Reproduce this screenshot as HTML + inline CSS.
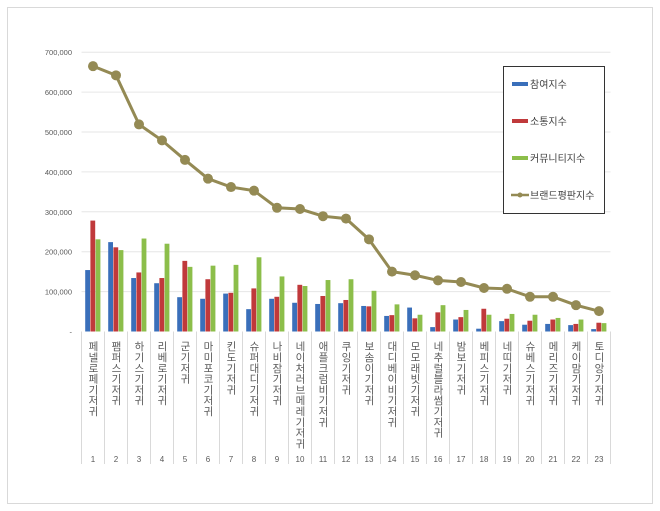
<!DOCTYPE html>
<html><head><meta charset="utf-8">
<style>
body{margin:0;background:#fff;}
svg{display:block;font-family:"Liberation Sans","Noto Sans CJK KR",sans-serif;}
</style></head>
<body>
<svg id="chart" width="660" height="511">
<rect x="7.5" y="7.5" width="645" height="496" fill="#fff" stroke="#d9d9d9"/>
<g id="grid"></g><g id="bars"></g><g id="line"></g><g id="xlabels"></g><g id="ylabels"></g>
<g>
<rect x="503.5" y="66.5" width="101" height="147" fill="#fff" stroke="#333"/>
<g><rect x="512" y="82" width="16" height="4" fill="#3a6fba"/><text x="530" y="88" font-size="10" fill="#404040">참여지수</text></g>
<g><rect x="512" y="119" width="16" height="4" fill="#c0393b"/><text x="530" y="125" font-size="10" fill="#404040">소통지수</text></g>
<g><rect x="512" y="156" width="16" height="4" fill="#8cbe4a"/><text x="530" y="162" font-size="10" fill="#404040">커뮤니티지수</text></g>
<g><line x1="511" y1="195" x2="529" y2="195" stroke="#948a54" stroke-width="2.5"/><circle cx="520" cy="195" r="2.5" fill="#948a54"/><text x="530" y="199" font-size="10" fill="#404040">브랜드평판지수</text></g>
</g>
</svg>
<script>
const categories=["페넬로페 기저귀","팸퍼스 기저귀","하기스 기저귀","리베로 기저귀","군 기저귀","마미포코 기저귀","킨도 기저귀","슈퍼대디 기저귀","나비잠 기저귀","네이처러브메레 기저귀","애플크럼비 기저귀","쿠잉 기저귀","보솜이 기저귀","대디베이비 기저귀","모모래빗 기저귀","네추럴블라썸 기저귀","밤보 기저귀","베피스 기저귀","네띠 기저귀","슈베스 기저귀","메리즈 기저귀","케이맘 기저귀","토디앙 기저귀"];
const participation=[154000,224000,134000,121000,86000,82000,95000,56000,82000,72000,69000,71000,64000,39000,60000,11000,30000,7000,26000,17000,19000,16000,6000];
const communication=[278000,211000,148000,134000,177000,131000,97000,108000,87000,117000,89000,79000,63000,41000,33000,48000,36000,57000,32000,27000,30000,19000,22000];
const community=[231000,204000,233000,220000,162000,165000,167000,186000,138000,114000,129000,131000,102000,68000,42000,66000,54000,42000,44000,42000,34000,30000,21000];
const brandIndex=[665000,642000,519000,479000,430000,383000,362000,353000,310000,307000,289000,283000,231000,150000,141000,128000,124000,109000,107000,87000,87000,66000,51000];
const yTicks=[0,100000,200000,300000,400000,500000,600000,700000];
const yTickLabels=["-","100,000","200,000","300,000","400,000","500,000","600,000","700,000"];

const NS="http://www.w3.org/2000/svg";
const x0=81.5,step=23.0,yZero=331.5,pxPer=39.9/100000;
const y=v=>yZero-v*pxPer;
const xc=i=>x0+step*(i+0.5);
function mk(tag,attrs,parent){const e=document.createElementNS(NS,tag);for(const k in attrs)e.setAttribute(k,attrs[k]);parent.appendChild(e);return e;}
const grid=document.getElementById('grid'),bars=document.getElementById('bars'),line=document.getElementById('line'),xl=document.getElementById('xlabels'),yl=document.getElementById('ylabels');
yTicks.forEach((t,i)=>{
 if(t>0){const g=mk('line',{x1:x0,x2:x0+step*categories.length,y1:y(t),y2:y(t),stroke:'#e6e6e6'},grid);
 
 }
 const tx=mk('text',{x:72,y:y(t)+3,'font-size':'7.5','text-anchor':'end',fill:'#595959'},yl);
 tx.textContent=yTickLabels[i];
 
 
});
for(let i=0;i<=categories.length;i++){
 const l=mk('line',{x1:x0+step*i,x2:x0+step*i,y1:yZero,y2:464,stroke:'#d9d9d9'},grid);
 
 
}
const series=[[participation,'#3a6fba'],[communication,'#c0393b'],[community,'#8cbe4a']];
const bw=5.2;
categories.forEach((c,i)=>{
 series.forEach((s,j)=>{
  const v=s[0][i];
  const r=mk('rect',{x:xc(i)-bw*1.5+j*bw,y:y(v),width:bw-0.4,height:yZero-y(v),fill:s[1]},bars);
  
  
 });
 const t=mk('text',{x:xc(i),y:341,'font-size':'10.5',fill:'#595959',style:'writing-mode:vertical-rl;text-orientation:upright;letter-spacing:0.3px'},xl);
 t.textContent=c.replace(/ /g,'');
 
 
 const n=mk('text',{x:xc(i),y:462,'font-size':'8','text-anchor':'middle',fill:'#595959'},xl);
 n.textContent=String(i+1);
 
 
});
const pts=brandIndex.map((v,i)=>xc(i)+','+y(v)).join(' ');
const pl=mk('polyline',{points:pts,fill:'none',stroke:'#948a54','stroke-width':'3'},line);


brandIndex.forEach((v,i)=>{
 const c=mk('circle',{cx:xc(i),cy:y(v),r:5,fill:'#948a54'},line);
 
 
});
</script>
</body></html>
